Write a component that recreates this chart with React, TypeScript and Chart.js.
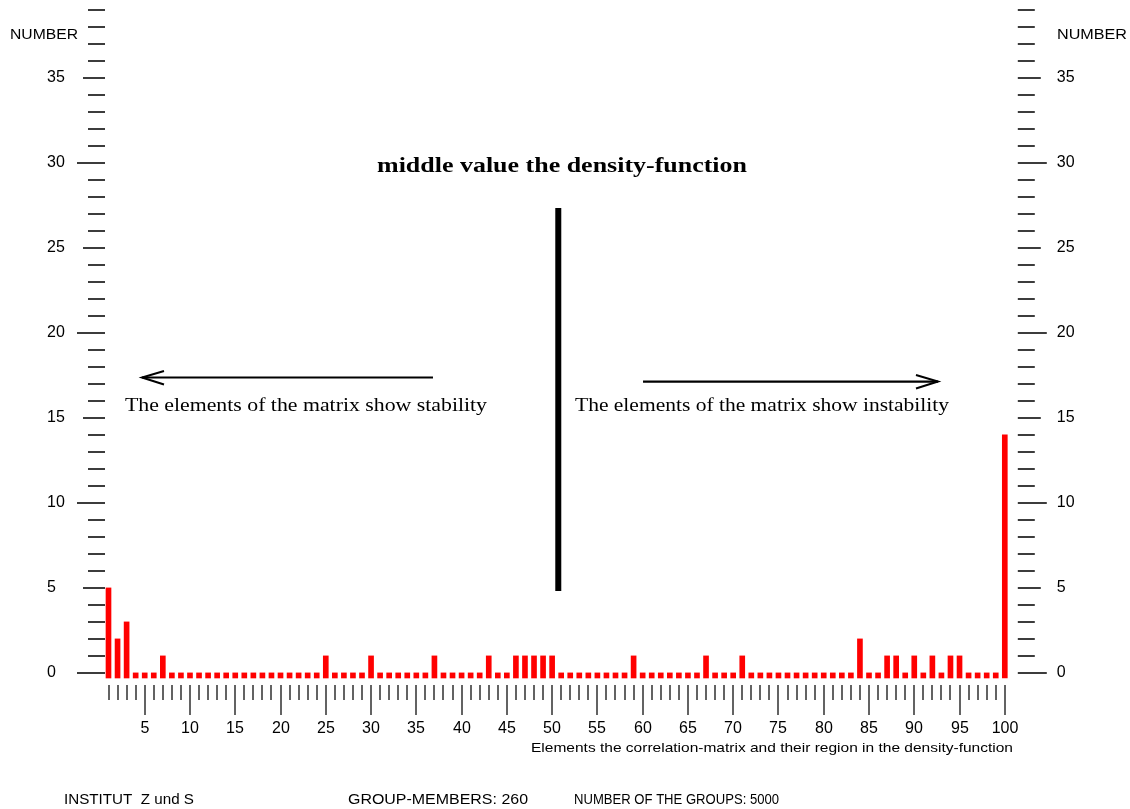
import React, { useEffect, useRef } from 'react';
import { Chart, registerables } from 'chart.js';

Chart.register(...registerables);

// ---------- data ----------
const categories: string[] = Array.from({ length: 100 }, (_, i) => String(i + 1));
const counts: number[] = [
  5, 2, 3, 0, 0, 0, 1, 0, 0, 0,
  0, 0, 0, 0, 0, 0, 0, 0, 0, 0,
  0, 0, 0, 0, 1, 0, 0, 0, 0, 1,
  0, 0, 0, 0, 0, 0, 1, 0, 0, 0,
  0, 0, 1, 0, 0, 1, 1, 1, 1, 1,
  0, 0, 0, 0, 0, 0, 0, 0, 1, 0,
  0, 0, 0, 0, 0, 0, 1, 0, 0, 0,
  1, 0, 0, 0, 0, 0, 0, 0, 0, 0,
  0, 0, 0, 2, 0, 0, 1, 1, 0, 1,
  0, 1, 0, 1, 1, 0, 0, 0, 0, 14,
];
const yTickLabels: number[] = [0, 5, 10, 15, 20, 25, 30, 35];
const yMax = 39;
const xTickLabels: number[] = [5, 10, 15, 20, 25, 30, 35, 40, 45, 50, 55, 60, 65, 70, 75, 80, 85, 90, 95, 100];

// annotation positions in data units (category number, value)
const middleValue = 50.68;
const middleLineFrom = 4.82;
const middleLineTo = 27.35;
const leftArrow = { from: 36.84, to: 4.7, y: 17.38 };
const rightArrow = { from: 60.04, to: 92.62, y: 17.14 };

const titleText = 'middle value the density-function';
const leftText = 'The elements of the matrix show stability';
const rightText = 'The elements of the matrix show instability';
const xAxisTitle = 'Elements the correlation-matrix and their region in the density-function';
const yAxisTitle = 'NUMBER';
const footer1 = 'INSTITUT  Z und S';
const footer2 = 'GROUP-MEMBERS: 260';
const footer3 = 'NUMBER OF THE GROUPS: 5000';

const SANS = '"Liberation Sans", Arial, sans-serif';
const SERIF = '"Liberation Serif", "Times New Roman", serif';

function fitText(
  ctx: CanvasRenderingContext2D,
  text: string,
  left: number,
  y: number,
  width: number,
  font: string,
) {
  ctx.save();
  ctx.font = font;
  ctx.textAlign = 'left';
  ctx.textBaseline = 'middle';
  ctx.fillStyle = '#000';
  const w = ctx.measureText(text).width;
  ctx.translate(left, y);
  ctx.scale(width / w, 1);
  ctx.fillText(text, 0, 0);
  ctx.restore();
}

const decorPlugin = {
  id: 'decor',
  afterDraw(chart: any) {
    const ctx: CanvasRenderingContext2D = chart.ctx;
    const xs = chart.scales.x;
    const ys = chart.scales.y;
    const area = chart.chartArea;
    const xAt = (v: number) => xs.getPixelForValue(v - 1);
    const yAt = (v: number) => ys.getPixelForValue(v);

    ctx.save();
    // ---- y axes tick marks ----
    ctx.strokeStyle = '#3c3c3c';
    ctx.lineWidth = 2;
    const leftEdge = area.left - 3.5;
    const rightEdge = area.right + 13;
    for (let v = 0; v <= yMax; v++) {
      const y = Math.round(yAt(v));
      const len = v % 10 === 0 ? 28 : v % 5 === 0 ? 22 : 17;
      ctx.beginPath();
      ctx.moveTo(leftEdge - len, y);
      ctx.lineTo(leftEdge, y);
      ctx.stroke();
      const rlen = v % 10 === 0 ? 29 : v % 5 === 0 ? 23 : 17;
      ctx.beginPath();
      ctx.moveTo(rightEdge, y);
      ctx.lineTo(rightEdge + rlen, y);
      ctx.stroke();
    }
    // y labels
    ctx.fillStyle = '#000';
    ctx.font = `16px ${SANS}`;
    ctx.textBaseline = 'middle';
    ctx.textAlign = 'left';
    yTickLabels.forEach((v) => {
      const y = Math.round(yAt(v));
      ctx.fillText(String(v), 47, y);
      ctx.fillText(String(v), rightEdge + 39, y);
    });

    // ---- x axis tick marks ----
    ctx.lineWidth = 1.6;
    const xTop = area.bottom + 7;
    for (let i = 1; i <= categories.length; i++) {
      const x = Math.round(xAt(i));
      const major = xTickLabels.includes(i);
      ctx.beginPath();
      ctx.moveTo(x, xTop);
      ctx.lineTo(x, xTop + (major ? 30 : 15));
      ctx.stroke();
    }
    ctx.textAlign = 'center';
    xTickLabels.forEach((v) => {
      ctx.fillText(String(v), Math.round(xAt(v)), area.bottom + 51);
    });
    ctx.restore();

    // ---- axis titles & footer ----
    fitText(ctx, yAxisTitle, 10, 35, 68, `15px ${SANS}`);
    fitText(ctx, yAxisTitle, 1057, 35, 70, `15px ${SANS}`);
    fitText(ctx, xAxisTitle, 531, 748, 482, `13px ${SANS}`);
    fitText(ctx, footer1, 64, 800, 130, `15px ${SANS}`);
    fitText(ctx, footer2, 348, 800, 180, `15px ${SANS}`);
    fitText(ctx, footer3, 574, 800, 205, `15px ${SANS}`);

    // ---- annotations ----
    fitText(ctx, titleText, 377, 166, 370, `bold 22px ${SERIF}`);
    fitText(ctx, leftText, 125, 406, 362, `18px ${SERIF}`);
    fitText(ctx, rightText, 575, 406, 374, `18px ${SERIF}`);

    ctx.save();
    ctx.strokeStyle = '#000';
    ctx.lineCap = 'butt';
    // middle vertical line
    ctx.lineWidth = 6;
    const mx = xAt(middleValue);
    ctx.beginPath();
    ctx.moveTo(mx, yAt(middleLineFrom));
    ctx.lineTo(mx, yAt(middleLineTo));
    ctx.stroke();

    const drawArrow = (a: { from: number; to: number; y: number }) => {
      const x1 = xAt(a.from);
      const x2 = xAt(a.to);
      const y = yAt(a.y);
      const dir = x2 > x1 ? 1 : -1;
      ctx.lineWidth = 2.2;
      ctx.beginPath();
      ctx.moveTo(x1, y);
      ctx.lineTo(x2, y);
      ctx.stroke();
      ctx.lineWidth = 2;
      ctx.beginPath();
      ctx.moveTo(x2 - dir * 22, y - 6.5);
      ctx.lineTo(x2, y);
      ctx.lineTo(x2 - dir * 22, y + 7);
      ctx.stroke();
    };
    drawArrow(leftArrow);
    drawArrow(rightArrow);
    ctx.restore();
  },
};

export default function App() {
  const canvasRef = useRef<HTMLCanvasElement | null>(null);

  useEffect(() => {
    const canvas = canvasRef.current;
    if (!canvas) return;
    const chart = new Chart(canvas, {
      type: 'bar',
      data: {
        labels: categories,
        datasets: [
          {
            data: counts,
            backgroundColor: '#ff0000',
            borderWidth: 0,
            barThickness: 5,
            base: -0.3,
            clip: false as any,
          } as any,
        ],
      },
      options: {
        responsive: false,
        animation: false,
        devicePixelRatio: 1,
        layout: { padding: { left: 108.5, right: 125.2, top: 10, bottom: 131 } },
        plugins: {
          legend: { display: false },
          tooltip: { enabled: false },
          title: { display: false },
        },
        scales: {
          x: { type: 'category', offset: false, display: false },
          y: { type: 'linear', min: -0.3, max: yMax, display: false },
        },
      },
      plugins: [decorPlugin],
    });
    return () => chart.destroy();
  }, []);

  return (
    <div style={{ position: 'fixed', left: 0, top: 0, width: 1130, height: 809, background: '#fff' }}>
      <canvas ref={canvasRef} width={1130} height={809} style={{ display: 'block' }} />
    </div>
  );
}
